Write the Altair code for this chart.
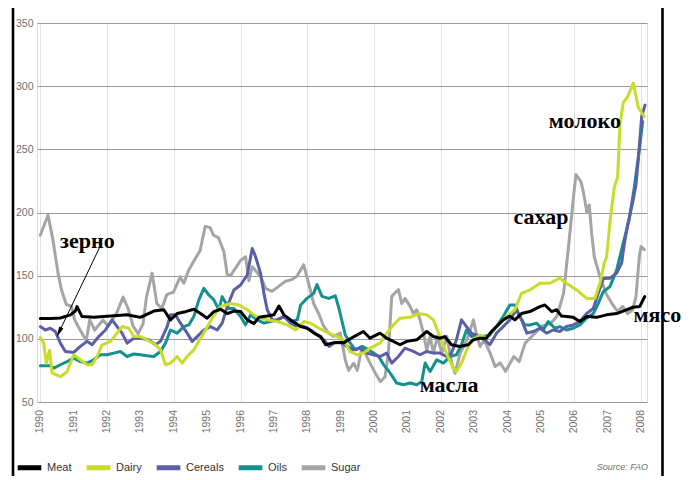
import altair as alt
import pandas as pd

# ---- data (year, index value) ----
meat = [(1990.0,116),(1990.3,116),(1990.6,116.5),(1990.9,119),(1991.05,122),(1991.1,125.5),(1991.25,117.6),
        (1991.6,117),(1992.1,118),(1992.6,119),(1993.0,117),(1993.4,122),(1993.7,123),(1993.9,115),(1994.1,120),
        (1994.35,121.5),(1994.6,123.4),(1994.8,120),(1995.0,116.3),(1995.2,121.6),(1995.4,123.4),(1995.6,120),
        (1995.8,122),(1996.0,121.6),(1996.2,115),(1996.4,112),(1996.55,117),(1996.8,118),(1997.0,119),(1997.15,126),
        (1997.3,119),(1997.5,115),(1997.8,109.7),(1998.0,108.4),(1998.2,104.5),(1998.4,101.8),(1998.55,95.3),
        (1998.8,97),(1999.1,97),(1999.4,101.8),(1999.68,105.8),(1999.88,100.5),(2000.18,104.5),(2000.38,100.5),
        (2000.78,95.3),(2000.98,98),(2001.28,99.2),(2001.58,105.8),(2001.78,101.8),(2001.97,100.5),(2002.12,101.8),
        (2002.32,95.3),(2002.57,94),(2002.82,95.3),(2002.97,99.2),(2003.17,100.5),(2003.37,100.5),(2003.52,105.8),
        (2003.67,109.7),(2003.87,115),(2004.07,118),(2004.22,115),(2004.42,120),(2004.67,121.6),(2004.97,125.5),
        (2005.12,126.8),(2005.32,121.6),(2005.47,123),(2005.62,118),(2005.97,117),(2006.17,113.7),(2006.37,117.6),
        (2006.67,117),(2006.97,119),(2007.27,120),(2007.56,122.9),(2007.76,125),(2007.96,125.5),(2008.11,133.4)]

dairy = [(1990.0,101),(1990.1,96.6),(1990.18,80.8),(1990.28,91),(1990.35,73),(1990.6,70),(1990.8,74),(1991.0,87.4),
         (1991.2,83.4),(1991.4,79.5),(1991.55,79.5),(1991.7,86),(1991.85,95.3),(1992.1,98),(1992.3,104.5),
         (1992.45,109.7),(1992.65,108.4),(1992.8,101.8),(1993.0,101.8),(1993.2,99.2),(1993.45,95.3),(1993.6,91.3),
         (1993.75,79.5),(1993.9,80.8),(1994.1,86),(1994.25,80.8),(1994.4,86),(1994.6,91.3),(1994.8,100.5),
         (1994.95,107),(1995.15,116.3),(1995.4,125.5),(1995.7,128),(1995.95,126.8),(1996.2,123),(1996.5,117),
         (1996.8,115),(1997.1,113.7),(1997.4,111),(1997.65,107),(1997.9,113.7),(1998.1,112.4),(1998.35,108.4),
         (1998.65,104.5),(1998.9,101.8),(1999.1,99),(1999.28,90),(1999.48,87.4),(1999.68,88.7),(1999.88,92.6),
         (2000.18,96.6),(2000.38,104.5),(2000.58,111),(2000.78,116.3),(2001.08,117),(2001.33,120),(2001.58,119),
         (2001.78,115),(2001.97,101.8),(2002.17,88.7),(2002.37,76.8),(2002.47,74.2),(2002.62,80.8),(2002.82,94),
         (2002.97,99.2),(2003.17,103),(2003.37,100.5),(2003.57,107),(2003.77,112.4),(2003.97,117.6),(2004.22,123),
         (2004.42,136),(2004.67,138.7),(2004.97,144),(2005.27,144),(2005.57,148),(2005.77,144),(2006.07,138.7),
         (2006.37,132),(2006.62,132),(2006.77,144),(2006.9,160),(2006.97,165),(2007.08,195),(2007.2,220),
         (2007.3,228),(2007.37,270),(2007.47,287),(2007.6,291.8),(2007.77,302.4),(2007.92,283),(2008.1,276)]

cereals = [(1990.0,109.7),(1990.15,107),(1990.3,108.4),(1990.45,105.8),(1990.6,96.6),(1990.75,90),(1991.0,89.2),
           (1991.2,94),(1991.4,98),(1991.55,95.3),(1991.75,101.8),(1991.95,107),(1992.15,115),(1992.3,109.7),
           (1992.45,104.5),(1992.6,96.6),(1992.8,100.5),(1993.0,100.5),(1993.25,99.2),(1993.45,95.3),(1993.6,98),
           (1993.8,109.7),(1993.9,119),(1994.05,119),(1994.2,112.4),(1994.4,104.5),(1994.55,98),(1994.7,101.8),
           (1994.9,107),(1995.1,109.7),(1995.3,107),(1995.45,112.4),(1995.6,125.5),(1995.8,138.7),(1996.0,142.6),
           (1996.2,150.5),(1996.35,171.5),(1996.45,165),(1996.6,151.8),(1996.7,136),(1996.8,123),(1996.95,115),
           (1997.1,115),(1997.3,117.6),(1997.5,112.4),(1997.7,109.7),(1997.9,109.7),(1998.1,107),(1998.3,103),
           (1998.5,99.2),(1998.65,94),(1998.8,96.6),(1999.0,97),(1999.2,94),(1999.38,91.3),(1999.58,92.6),
           (1999.78,88.7),(1999.98,87.4),(2000.18,86),(2000.38,88.7),(2000.53,80.8),(2000.73,86),(2000.93,92.6),
           (2001.18,90),(2001.38,87.4),(2001.58,90),(2001.78,88.7),(2001.97,88.7),(2002.17,86),(2002.32,88.7),
           (2002.47,99.2),(2002.62,115),(2002.77,109.7),(2002.92,104.5),(2003.12,101.8),(2003.32,99.2),
           (2003.47,95.3),(2003.67,104.5),(2003.87,109.7),(2004.07,115),(2004.27,123),(2004.42,115),(2004.58,104.5),
           (2004.77,105.8),(2004.97,108.4),(2005.17,104.5),(2005.37,107),(2005.57,105.8),(2005.77,109.7),
           (2005.97,111),(2006.17,113.7),(2006.37,120),(2006.57,124),(2006.72,136),(2006.87,147.8),(2007.07,148),
           (2007.27,152),(2007.42,160),(2007.5,175),(2007.6,190),(2007.75,208),(2007.85,222),(2007.92,242),
           (2008.02,276),(2008.12,285)]

oils = [(1990.0,78.7),(1990.3,78.7),(1990.4,76.8),(1990.6,79.5),(1990.8,82),(1991.0,84.7),(1991.2,82),(1991.4,80.8),
        (1991.6,83.4),(1991.8,87.4),(1992.0,87.4),(1992.2,88.7),(1992.4,90),(1992.6,86),(1992.8,88),(1993.0,87.4),
        (1993.2,86.6),(1993.4,86),(1993.6,90),(1993.75,96.6),(1993.9,107),(1994.1,104.5),(1994.3,109.7),
        (1994.45,111),(1994.6,117.6),(1994.75,130.8),(1994.9,140),(1995.05,134.7),(1995.2,130.8),(1995.35,123),
        (1995.45,133.4),(1995.65,124),(1995.8,124),(1996.0,117.6),(1996.15,111),(1996.3,119),(1996.5,115),
        (1996.7,112.4),(1996.9,113.7),(1997.1,115),(1997.3,117.6),(1997.5,113.7),(1997.7,115),(1997.8,126.8),
        (1997.99,132),(1998.19,136),(1998.29,142.9),(1998.44,133.6),(1998.64,132),(1998.84,134),(1998.94,125),
        (1999.14,103),(1999.29,96.6),(1999.44,91.3),(1999.64,94),(1999.84,91.3),(2000.14,86),(2000.29,79.4),
        (2000.48,73),(2000.68,65),(2000.88,63.7),(2001.08,65),(2001.28,63.7),(2001.43,66.3),(2001.53,80.8),
        (2001.68,74.2),(2001.88,83.4),(2002.08,80.8),(2002.27,86),(2002.47,87.4),(2002.62,95.3),(2002.77,107),
        (2002.92,101.8),(2003.07,103),(2003.27,101.8),(2003.47,103),(2003.67,109.7),(2003.87,117.6),
        (2004.07,126.8),(2004.22,126.8),(2004.37,117.6),(2004.52,111),(2004.67,111),(2004.87,112.4),(2005.07,107),
        (2005.22,113.7),(2005.42,108.4),(2005.57,109.7),(2005.77,107),(2005.97,108.4),(2006.17,111),
        (2006.37,116.3),(2006.57,120),(2006.72,128),(2006.87,137.3),(2007.07,141.3),(2007.27,154.4),
        (2007.46,175),(2007.65,195),(2007.8,220),(2007.95,250),(2008.05,272)]

sugar = [(1990.0,182),(1990.23,198),(1990.38,178),(1990.53,152),(1990.63,139),(1990.78,127),(1990.93,126),
         (1991.03,115),(1991.13,110),(1991.3,102),(1991.38,99),(1991.48,115),(1991.63,107),(1991.88,115),
         (1992.03,110),(1992.28,120),(1992.48,133),(1992.63,124),(1992.78,110),(1992.93,104),(1993.08,112),
         (1993.18,133),(1993.35,152),(1993.49,128),(1993.64,124),(1993.79,135),(1993.99,137),(1994.19,149),
         (1994.3,144),(1994.44,154),(1994.59,161),(1994.79,170),(1994.94,189),(1995.09,188),(1995.19,182),
         (1995.34,180),(1995.5,169),(1995.6,151),(1995.7,150),(1995.85,156),(1996.0,162),(1996.15,165),
         (1996.25,146),(1996.35,157),(1996.45,154),(1996.6,149),(1996.75,140),(1996.94,137.6),(1997.14,141.5),
         (1997.34,145.5),(1997.54,147),(1997.69,149.5),(1997.89,158.7),(1998.04,144),(1998.19,128),(1998.34,120),
         (1998.49,110),(1998.64,104.5),(1998.79,102),(1998.99,104.5),(1999.14,83),(1999.24,75),(1999.39,80.7),
         (1999.5,75),(1999.64,94),(1999.84,83),(2000.04,72.7),(2000.19,66),(2000.33,70),(2000.43,88.6),
         (2000.53,133.6),(2000.58,135),(2000.73,139),(2000.83,128),(2000.93,132),(2001.08,125.7),(2001.18,120),
         (2001.28,123),(2001.38,115),(2001.48,104.5),(2001.58,91),(2001.68,102),(2001.78,88.6),(2001.9,102),
         (2002.03,88.6),(2002.18,102),(2002.33,80.7),(2002.43,72.7),(2002.58,88.6),(2002.78,99),(2002.98,115),
         (2003.08,102),(2003.18,94),(2003.3,99),(2003.48,88.6),(2003.63,78),(2003.78,81),(2003.94,74.3),
         (2004.19,86),(2004.35,82),(2004.53,96.6),(2004.73,101.9),(2005.03,110),(2005.28,112),(2005.48,117.7),
         (2005.68,136),(2005.83,173.5),(2005.98,213),(2006.05,230),(2006.2,224.5),(2006.28,215.5),(2006.38,200),
         (2006.45,206),(2006.52,184),(2006.6,165),(2006.75,151),(2006.95,136),(2007.15,127),(2007.3,121.7),
         (2007.45,125.7),(2007.6,120),(2007.75,123),(2007.85,133.6),(2007.95,165),(2008.0,173),(2008.1,170.6)]

series_names = ["Meat", "Dairy", "Cereals", "Oils", "Sugar"]
series_colors = ["#000000", "#c8dc2a", "#5c5fa8", "#13908f", "#a5a5a5"]
draw_order = [("Sugar", sugar), ("Oils", oils), ("Cereals", cereals), ("Dairy", dairy), ("Meat", meat)]

year_ticks = list(range(1990, 2009))
year_labels = [str(y) for y in year_ticks]
value_ticks = [50, 100, 150, 200, 250, 300, 350]

# annotations (Russian labels) at data positions
ann_text = ["зерно", "сахар", "молоко", "мясо", "масла"]
ann_year = [1991.41, 2005.0, 2006.32, 2008.49, 2002.25]
ann_value = [172, 191, 267, 113.6, 58.2]

# arrow from "зерно" to the cereals line
arrow_from = (1991.77, 172)
arrow_to = (1990.56, 105.2)

rows = []
for order, (name, pts) in enumerate(draw_order):
    for t, v in pts:
        rows.append({"series": name, "year": t, "value": v, "ord": order})
df = pd.DataFrame(rows)

lab_font = "Liberation Sans"

xscale = alt.Scale(domain=[1989.9, 2008.18], nice=False, zero=False)
yscale = alt.Scale(domain=[50, 350], nice=False, zero=False)

lines = alt.Chart(df).mark_line(strokeWidth=3, strokeJoin="round", strokeCap="round").encode(
    x=alt.X("year:Q", scale=xscale,
            axis=alt.Axis(values=year_ticks, labels=False, grid=True, gridColor="#e2e2e2",
                          gridWidth=1, ticks=False, domain=False, title=None)),
    y=alt.Y("value:Q", scale=yscale,
            axis=alt.Axis(values=value_ticks, grid=True, gridColor="#9c9c9c", gridWidth=1, ticks=False,
                          domain=False, labelPadding=4, labelFont=lab_font, labelFontSize=10.5,
                          labelColor="#707070", labelOverlap=False, title=None)),
    color=alt.Color("series:N", scale=alt.Scale(domain=series_names, range=series_colors),
                    legend=alt.Legend(orient="none", legendX=-22, legendY=430, direction="horizontal",
                                      title=None, symbolType="stroke", symbolStrokeWidth=5, symbolSize=560,
                                      labelFont=lab_font, labelFontSize=11, labelColor="#333333",
                                      columnPadding=4, labelOffset=3, padding=0)),
    detail="ord:O",
    order="year:Q",
)

# year labels along the bottom (rotated), positioned by the x scale
years_df = pd.DataFrame({"year": year_ticks, "label": year_labels})
year_text = alt.Chart(years_df).mark_text(font=lab_font, fontSize=10.5, color="#707070", angle=270,
                                          align="right", baseline="middle").encode(
    x=alt.X("year:Q", scale=xscale), y=alt.value(387), text="label:N")

ann_df = pd.DataFrame({"text": ann_text, "year": ann_year, "value": ann_value})
ann = alt.Chart(ann_df).mark_text(font="Liberation Serif", fontWeight="bold", fontSize=22,
                                  baseline="alphabetic", align="center", color="#000000").encode(
    x=alt.X("year:Q", scale=xscale), y=alt.Y("value:Q", scale=yscale), text="text:N")

arrow_df = pd.DataFrame({"year": [arrow_from[0]], "value": [arrow_from[1]],
                         "year2": [arrow_to[0]], "value2": [arrow_to[1]]})
arrow_line = alt.Chart(arrow_df).mark_rule(color="#000000", strokeWidth=1).encode(
    x=alt.X("year:Q", scale=xscale), y=alt.Y("value:Q", scale=yscale), x2="year2:Q", y2="value2:Q")
arrow_head = alt.Chart(arrow_df).mark_point(shape="M0,-1L0.45,1L-0.45,1Z", size=110, angle=205.5,
                                            filled=True, color="#000000", opacity=1).encode(
    x=alt.X("year2:Q", scale=xscale), y=alt.Y("value2:Q", scale=yscale))

note = alt.Chart(pd.DataFrame({"t": ["Source: FAO"]})).mark_text(
    font=lab_font, fontStyle="italic", fontSize=9, color="#707070", align="right", baseline="middle").encode(
    x=alt.value(611), y=alt.value(444), text="t:N")

frame = alt.Chart(pd.DataFrame({"a": [0]})).mark_rect(fillOpacity=0, stroke="#000000", strokeWidth=2.6).encode(
    x=alt.value(-24), x2=alt.value(625.5), y=alt.value(-17), y2=alt.value(475))

chart = alt.layer(lines, year_text, arrow_line, arrow_head, ann, note, frame).properties(
    width=610, height=379,
    padding={"left": 29, "top": 15, "right": 38, "bottom": 74},
    autosize=alt.AutoSizeParams(type="none"),
).configure_view(stroke=None).configure(background="#ffffff")

chart.save("out.html", embed_options={"renderer": "svg", "actions": False})
